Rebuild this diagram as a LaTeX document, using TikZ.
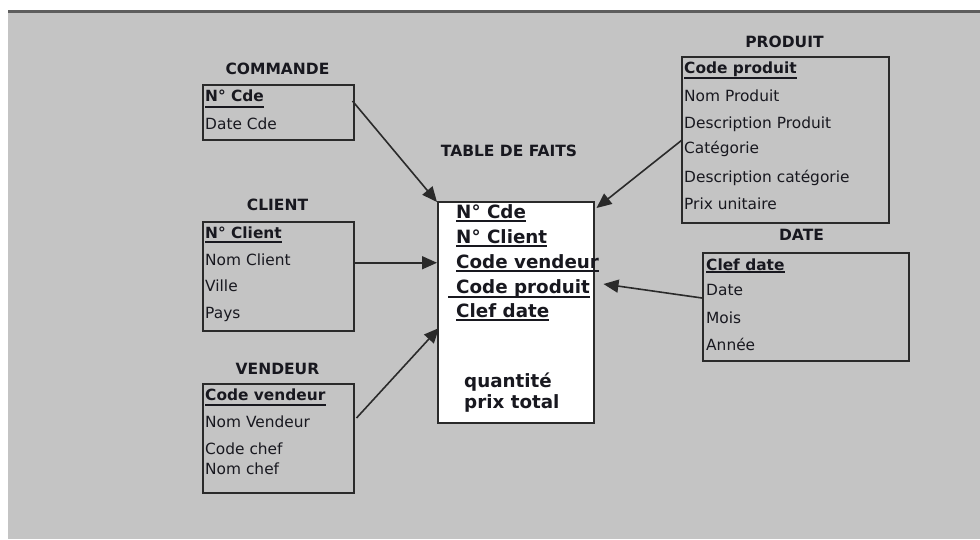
\documentclass[tikz,border=0pt]{standalone}
\usepackage{fontspec}
\setmainfont{DejaVu Sans}
\usetikzlibrary{arrows.meta}
\definecolor{panel}{HTML}{C4C4C4}
\definecolor{rulegray}{HTML}{5E5E5E}
\definecolor{ink}{HTML}{18181F}
\definecolor{edge}{HTML}{2A2A2A}

\begin{document}
\begin{tikzpicture}[x=1pt,y=-1pt,
  tablebox/.style={draw=edge, line width=1.5pt, inner sep=0pt, anchor=north west},
  title/.style={font=\fontsize{15.5}{18}\selectfont\bfseries, text=ink, inner sep=0pt},
  attr/.style={font=\fontsize{15.4}{18}\selectfont, text=ink, inner sep=0pt, anchor=base west},
  keyattr/.style={attr, font=\fontsize{15.4}{18}\selectfont\bfseries},
  factattr/.style={attr, font=\fontsize{18.3}{21}\selectfont\bfseries},
  uline/.style={draw=ink, line width=1.7pt},
  link/.style={draw=edge, line width=1.6pt, -{Triangle[length=15pt,width=13pt]}}
]
% page and grey panel with its top rule
\useasboundingbox (0,0) rectangle (980,539);
\fill[white] (0,0) rectangle (980,539);
\fill[panel] (8,13) rectangle (980,539);
\draw[rulegray, line width=3pt] (8,11.5) -- (980,11.5);

% ---------------- COMMANDE ----------------
\node[title] (tcommande) at (277.5,69) {COMMANDE};
\node[tablebox, minimum width=151pt, minimum height=55pt] (commande) at (202,84) {};
\node[keyattr] (c1) at (205,101.7) {N° Cde};
\node[attr] (c2) at (205,129) {Date Cde};
\draw[uline] ([yshift=-5pt]c1.base west) -- ([yshift=-5pt]c1.base east);

% ---------------- CLIENT ----------------
\node[title] (tclient) at (277.5,205) {CLIENT};
\node[tablebox, minimum width=151pt, minimum height=109pt] (client) at (202,221) {};
\node[keyattr] (k1) at (205,238) {N° Client};
\node[attr] (k2) at (205,265) {Nom Client};
\node[attr] (k3) at (205,291.7) {Ville};
\node[attr] (k4) at (205,318) {Pays};
\draw[uline] ([yshift=-4pt]k1.base west) -- ([yshift=-4pt]k1.base east);

% ---------------- VENDEUR ----------------
\node[title] (tvendeur) at (277.5,369) {VENDEUR};
\node[tablebox, minimum width=151pt, minimum height=109pt] (vendeur) at (202,383) {};
\node[keyattr] (v1) at (205,400) {Code vendeur};
\node[attr] (v2) at (205,427) {Nom Vendeur};
\node[attr] (v3) at (205,454) {Code chef};
\node[attr] (v4) at (205,474) {Nom chef};
\draw[uline] ([yshift=-5pt]v1.base west) -- ([yshift=-5pt]v1.base east);

% ---------------- TABLE DE FAITS ----------------
\node[title] (tfact) at (509,150.5) {TABLE DE FAITS};
\node[tablebox, fill=white, minimum width=156pt, minimum height=221pt] (fact) at (437,201) {};
\node[factattr] (f1) at (456,218) {N° Cde};
\node[factattr] (f2) at (456,243) {N° Client};
\node[factattr] (f3) at (456,268.3) {Code vendeur};
\node[factattr] (f4) at (456,293.3) {Code produit};
\node[factattr] (f5) at (456,317.3) {Clef date};
\node[factattr] (f6) at (464,387) {quantité};
\node[factattr] (f7) at (464,408) {prix total};
\foreach \k in {f1,f2,f3,f5}
  \draw[uline] ([yshift=-3pt]\k.base west) -- ([yshift=-3pt]\k.base east);
\draw[uline] ([xshift=-8pt,yshift=-3.4pt]f4.base west) -- ([yshift=-3.4pt]f4.base east);

% ---------------- PRODUIT ----------------
\node[title] (tproduit) at (784.5,42) {PRODUIT};
\node[tablebox, minimum width=207pt, minimum height=166pt] (produit) at (681,56) {};
\node[keyattr] (p1) at (684,73.3) {Code produit};
\node[attr] (p2) at (684,101.7) {Nom Produit};
\node[attr] (p3) at (684,128.3) {Description Produit};
\node[attr] (p4) at (684,153.3) {Catégorie};
\node[attr] (p5) at (684,182.7) {Description catégorie};
\node[attr] (p6) at (684,209.3) {Prix unitaire};
\draw[uline] ([yshift=-5pt]p1.base west) -- ([yshift=-5pt]p1.base east);

% ---------------- DATE ----------------
\node[title] (tdate) at (801.5,234.5) {DATE};
\node[tablebox, minimum width=206pt, minimum height=108pt] (date) at (702,252) {};
\node[keyattr] (d1) at (706,270) {Clef date};
\node[attr] (d2) at (706,295) {Date};
\node[attr] (d3) at (706,323) {Mois};
\node[attr] (d4) at (706,350) {Année};
\draw[uline] ([yshift=-2pt]d1.base west) -- ([yshift=-2pt]d1.base east);

% ---------------- links to the fact table ----------------
\draw[link] ([xshift=-2pt,yshift=-17pt]commande.north east) -- ([yshift=-1pt]fact.north west);
\draw[link] ([yshift=13.5pt]client.east) coordinate (cl) -- (cl -| fact.west);
\draw[link] ([xshift=2pt,yshift=-35pt]vendeur.north east) -- ([xshift=2pt,yshift=-127pt]fact.north west);
\draw[link] ([xshift=1pt,yshift=-84pt]produit.north west) -- ([xshift=2pt,yshift=-7pt]fact.north east);
\draw[link] ([yshift=-46pt]date.north west) -- ([xshift=9pt,yshift=-83pt]fact.north east);
\end{tikzpicture}
\end{document}
